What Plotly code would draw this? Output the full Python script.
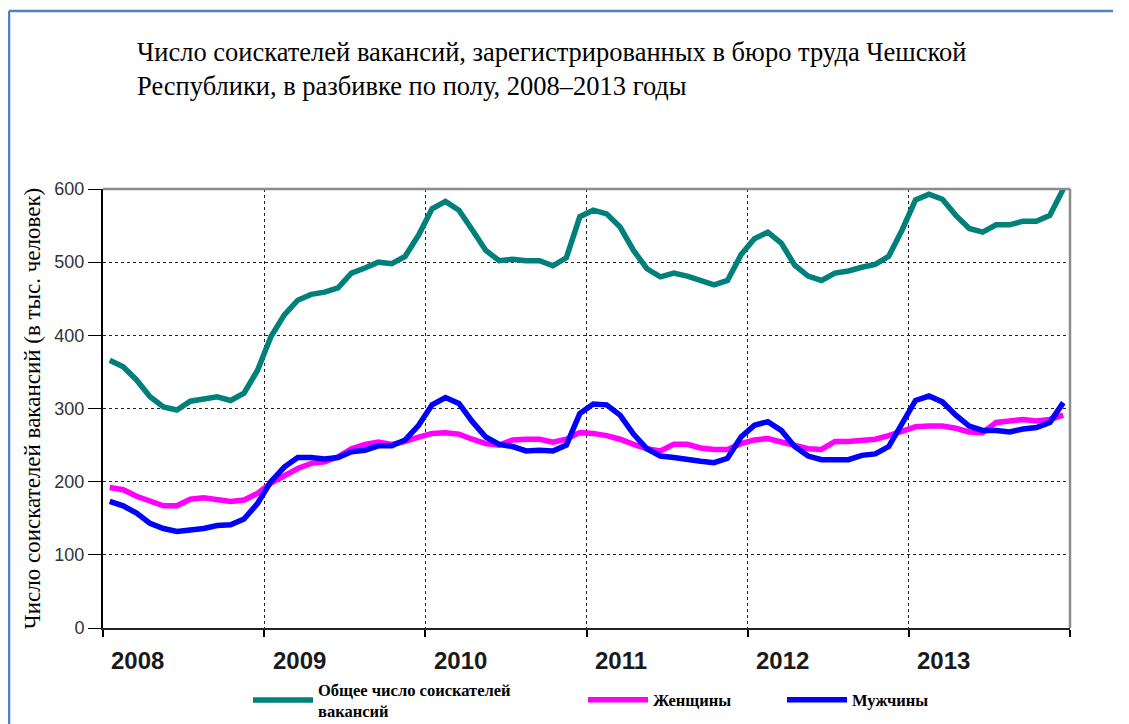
import plotly.graph_objects as go

years = ["2008", "2009", "2010", "2011", "2012", "2013"]

total = [366, 357, 339, 316, 302, 298, 310, 313, 316, 311, 321, 352,
         398, 428, 448, 456, 459, 465, 485, 492, 500, 498, 508, 537,
         573, 583, 571, 544, 516, 502, 504, 502, 502, 495, 506, 562,
         571, 566, 548, 516, 491, 480, 485, 481, 475, 469, 475, 510,
         532, 541, 526, 496, 481, 475, 485, 488, 493, 497, 508, 544,
         585, 593, 586, 564, 546, 541, 551, 551, 556, 556, 564, 600]

women = [192, 189, 180, 173, 167, 167, 176, 178, 176, 173, 175, 184,
         198, 209, 218, 225, 227, 234, 245, 251, 254, 251, 255, 261,
         266, 267, 265, 258, 252, 250, 257, 258, 258, 254, 258, 267,
         266, 263, 258, 251, 245, 242, 251, 251, 246, 244, 244, 252,
         257, 259, 254, 249, 245, 244, 255, 255, 257, 258, 263, 270,
         275, 276, 276, 273, 268, 267, 281, 283, 285, 283, 285, 291]

men = [173, 167, 157, 143, 136, 132, 134, 136, 140, 141, 149, 170,
       200, 220, 233, 233, 231, 233, 241, 243, 249, 249, 257, 277,
       305, 315, 307, 282, 261, 251, 248, 242, 243, 242, 250, 293,
       306, 305, 291, 265, 245, 235, 233, 230, 228, 226, 232, 261,
       277, 282, 270, 248, 235, 230, 230, 230, 236, 238, 248, 280,
       311, 317, 309, 291, 276, 270, 270, 268, 272, 274, 281, 308]

series_names = ["Общее число соискателей<br>вакансий", "Женщины", "Мужчины"]
series_colors = ["#00807A", "#FF00FF", "#0000FF"]

months = [i + 0.5 for i in range(len(total))]

# page body has an 8px margin; work in reference-pixel coordinates and shift
OFF = 8
W, H = 1129 - 3 * OFF, 724 - OFF
plot_left, plot_right, plot_top, plot_bottom = 103 - OFF, 1070 - OFF, 189 - OFF, 628 - OFF
L, R, T, B = plot_left, W - plot_right, plot_top, H - plot_bottom
pw, ph = plot_right - plot_left, plot_bottom - plot_top

def px_x(p):  # reference pixel -> paper x
    return (p - OFF - plot_left) / pw

def px_y(p):  # reference pixel -> paper y
    return (plot_bottom - (p - OFF)) / ph

fig = go.Figure()
legend_ids = ["legend", "legend2", "legend3"]
for name, data, color, lg in zip(series_names, [total, women, men], series_colors, legend_ids):
    fig.add_trace(go.Scatter(x=months, y=data, mode="lines", name=name, showlegend=True,
                             line=dict(color=color, width=5.5), legend=lg))

legend_common = dict(orientation="h", yanchor="middle", xanchor="left",
                     itemwidth=60, bgcolor="rgba(0,0,0,0)",
                     font=dict(family="Liberation Serif", size=16.5, color="#000", weight="bold"))
leg_y = px_y(700)

fig.update_layout(
    width=W, height=H, showlegend=True,
    margin=dict(l=L, r=R, t=T, b=B, autoexpand=False),
    paper_bgcolor="white", plot_bgcolor="white",
    title=dict(text="Число соискателей вакансий, зарегистрированных в бюро труда Чешской<br>Республики, в разбивке по полу, 2008–2013 годы",
               x=(137 - OFF) / W, xanchor="left", xref="container",
               y=1 - 53 / H, yanchor="top", yref="container",
               font=dict(family="Liberation Serif", size=26.5, color="#000")),
    legend=dict(x=px_x(248), y=leg_y, **legend_common),
    legend2=dict(x=px_x(583), y=leg_y, **legend_common),
    legend3=dict(x=px_x(782), y=leg_y, **legend_common),
    xaxis=dict(range=[0, 72], tickvals=[0, 12, 24, 36, 48, 60, 72],
               ticktext=[""] * 7, ticks="outside", ticklen=7, tickwidth=1.5, tickcolor="#000",
               showgrid=True, gridcolor="#222", griddash="dot", gridwidth=1,
               showline=True, linecolor="#222", linewidth=2, zeroline=False, fixedrange=True),
    yaxis=dict(range=[0, 600], tickvals=[0, 100, 200, 300, 400, 500, 600],
               ticks="outside", ticklen=13, tickwidth=1, tickcolor="#000",
               showgrid=True, gridcolor="#222", griddash="dot", gridwidth=1,
               showline=True, linecolor="#000", linewidth=2, zeroline=False,
               tickfont=dict(family="Liberation Sans", size=18, color="#333"),
               title=dict(text="Число соискателей вакансий (в тыс. человек)", standoff=7,
                          font=dict(family="Liberation Serif", size=23, color="#000")),
               fixedrange=True),
)

# gray top and right frame of the plot area
fig.add_shape(type="line", xref="paper", yref="paper", x0=0, x1=1, y0=1, y1=1,
              line=dict(color="#8C8C8C", width=2.5), layer="above")
fig.add_shape(type="line", xref="paper", yref="paper", x0=1, x1=1, y0=0, y1=1,
              line=dict(color="#8C8C8C", width=2.5), layer="above")
# outer blue frame (top and left edges visible in the picture)
fig.add_shape(type="line", xref="paper", yref="paper",
              x0=px_x(9), x1=px_x(1300), y0=px_y(11), y1=px_y(11),
              line=dict(color="#4F81BD", width=2.5), layer="below")
fig.add_shape(type="line", xref="paper", yref="paper",
              x0=px_x(9), x1=px_x(9), y0=px_y(11), y1=px_y(900),
              line=dict(color="#4F81BD", width=2.5), layer="below")

for k, yr in enumerate(years):
    fig.add_annotation(x=12 * k + 2.6, y=0, xref="x", yref="paper", text=yr,
                       showarrow=False, yshift=-32, yanchor="middle",
                       font=dict(family="Liberation Sans", size=24, color="#1a1a1a", weight="bold"))

fig.write_html("out.html")
